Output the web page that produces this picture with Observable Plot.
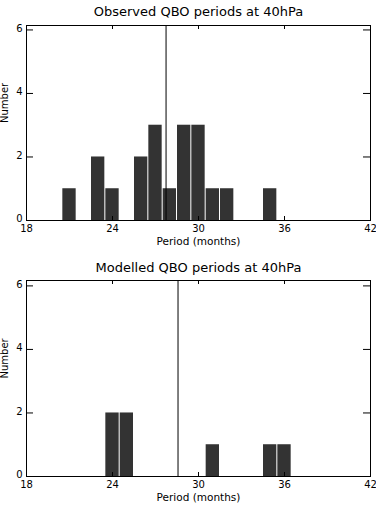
<!DOCTYPE html>
<html>
<head>
<meta charset="utf-8">
<script src="https://cdn.jsdelivr.net/npm/d3@7"></script>
<script src="https://cdn.jsdelivr.net/npm/@observablehq/plot@0.6"></script>
<style>
  html, body { margin: 0; padding: 0; background: white; }
  svg { display: block; }
</style>
</head>
<body>
<div id="chart"></div>
<script>
// Observed QBO periods (months) and number of cycles
const obsPeriods = [21, 23, 24, 26, 27, 28, 29, 30, 31, 32, 35];
const obsCounts  = [1, 2, 1, 2, 3, 1, 3, 3, 1, 1, 1];
// Modelled QBO periods (months) and number of cycles
const modPeriods = [24, 25, 31, 35, 36];
const modCounts  = [2, 2, 1, 1, 1];
// Axis ticks and labels
const xTicks = [18, 24, 30, 36, 42];
const yTicks = [0, 2, 4, 6];
const xLabel = "Period (months)";
const yLabel = "Number";
const titles = ["Observed QBO periods at 40hPa", "Modelled QBO periods at 40hPa"];

function panel({title, periods, counts, height, marginTop, marginBottom, yMax, titleDy}) {
  const data = periods.map((p, i) => ({p, n: counts[i]}));
  const mean = d3.sum(data, d => d.p * d.n) / d3.sum(data, d => d.n);
  const marginLeft = 26, marginRight = 6, width = 376;
  const innerH = height - marginTop - marginBottom;
  const innerW = width - marginLeft - marginRight;
  return Plot.plot({
    width, height, marginTop, marginBottom, marginLeft, marginRight,
    x: {domain: [18, 42], axis: null},
    y: {domain: [0, yMax], axis: null},
    style: {fontFamily: "DejaVu Sans", background: "white", color: "black", overflow: "visible"},
    marks: [
      Plot.rectY(data, {x1: d => d.p - 0.5, x2: d => d.p + 0.5, y1: 0, y2: "n", fill: "#333333", insetLeft: 0.5, insetRight: 0.5}),
      Plot.ruleX([mean], {stroke: "black"}),
      Plot.tickX(xTicks, {x: d => d, insetTop: innerH - 4, stroke: "black"}),
      Plot.tickX(xTicks, {x: d => d, insetBottom: innerH - 4, stroke: "black"}),
      Plot.tickY(yTicks, {y: d => d, insetRight: innerW - 7, stroke: "black"}),
      Plot.tickY(yTicks, {y: d => d, insetLeft: innerW - 7, stroke: "black"}),
      Plot.frame({stroke: "black"}),
      Plot.text(xTicks, {x: d => d, frameAnchor: "bottom", dy: 11, fontSize: 10, fill: "black"}),
      Plot.text(yTicks, {y: d => d, frameAnchor: "left", dx: -4, dy: -1.5, textAnchor: "end", fontSize: 10, fill: "black"}),
      Plot.text([xLabel], {frameAnchor: "bottom", dy: 24, fontSize: 10.5, fill: "black"}),
      Plot.text([yLabel], {frameAnchor: "left", dx: -22, rotate: -90, fontSize: 10, fill: "black"}),
      Plot.text([title], {frameAnchor: "top", dy: titleDy, fontSize: 13, fill: "black"})
    ]
  });
}

const root = document.getElementById("chart");
root.append(panel({title: titles[0], periods: obsPeriods, counts: obsCounts,
  height: 252, marginTop: 25, marginBottom: 32, yMax: 6.14, titleDy: -19}));
root.append(panel({title: titles[1], periods: modPeriods, counts: modCounts,
  height: 253, marginTop: 28, marginBottom: 29, yMax: 6.17, titleDy: -18}));
</script>
</body>
</html>
